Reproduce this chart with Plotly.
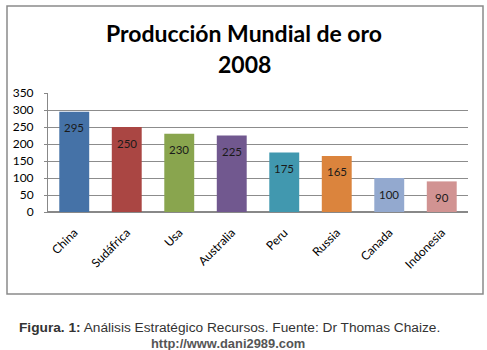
import plotly.graph_objects as go

countries = ["China", "Sudáfrica", "Usa", "Australia", "Peru", "Russia", "Canada", "Indonesia"]
production = [295, 250, 230, 225, 175, 165, 100, 90]
bar_colors = ["#4572A7", "#AA4643", "#89A54E", "#71588F", "#4198AF", "#DB843D", "#93A9CF", "#D19392"]
y_ticks = [0, 50, 100, 150, 200, 250, 300, 350]

W, H = 487, 350
L, R, T, B = 48, 19, 93, 138
pw, ph = W - L - R, H - T - B

def px(x):
    return (x - L) / pw

def py(y):
    return (H - B - y) / ph

fig = go.Figure()
fig.add_trace(go.Bar(
    x=countries, y=production,
    marker=dict(color=bar_colors, line=dict(width=0)),
    width=0.57,
    hoverinfo="skip",
))

for c, v in zip(countries, production):
    fig.add_annotation(x=c, y=v, text=str(v), showarrow=False, yshift=-16,
                       xanchor="center", yanchor="middle",
                       font=dict(family="Lato", size=11.5, color="#1a1a1a"))

def ann(x, y, text, font):
    fig.add_annotation(xref="paper", yref="paper", x=px(x), y=py(y), text=text,
                       showarrow=False, xanchor="center", yanchor="middle", font=font)

ann(244, 33, "<b>Producción Mundial de oro</b>", dict(family="Lato", size=23, color="#000"))
ann(244, 64, "<b>2008</b>", dict(family="Lato", size=23, color="#000"))
ann(229, 327, "<b>Figura. 1:</b> Análisis Estratégico Recursos. Fuente: Dr Thomas Chaize.",
    dict(family="Liberation Sans", size=13.7, color="#333"))
ann(228, 343, "<b>http://www.dani2989.com</b>", dict(family="Liberation Sans", size=12.9, color="#555"))

# frame
fig.add_shape(type="rect", xref="paper", yref="paper", x0=px(7), x1=px(483), y0=py(294), y1=py(6),
              line=dict(color="#8a8a8a", width=1.5), layer="below")

fig.update_layout(
    width=W, height=H,
    margin=dict(l=L, r=R, t=T, b=B, autoexpand=False),
    paper_bgcolor="white", plot_bgcolor="white",
    showlegend=False,
    bargap=0.43,
    xaxis=dict(tickangle=-45, tickfont=dict(family="Lato", size=12, color="#000"),
               showline=True, linecolor="#888", linewidth=1, showgrid=False, ticks="",
               ticklabelstandoff=8, automargin=False, fixedrange=True),
    yaxis=dict(range=[0, 350], tickvals=y_ticks, tickfont=dict(family="Lato", size=12, color="#000"),
               showgrid=True, gridcolor="#8c8c8c", gridwidth=1, showline=True, linecolor="#888",
               linewidth=1, zeroline=True, zerolinecolor="#888", ticks="outside", ticklen=3,
               tickcolor="#888", ticklabelstandoff=8, automargin=False, fixedrange=True),
)

fig.write_html("out.html", config={"displayModeBar": False},
               post_script="document.body.style.margin='0';document.body.style.overflow='hidden';")
